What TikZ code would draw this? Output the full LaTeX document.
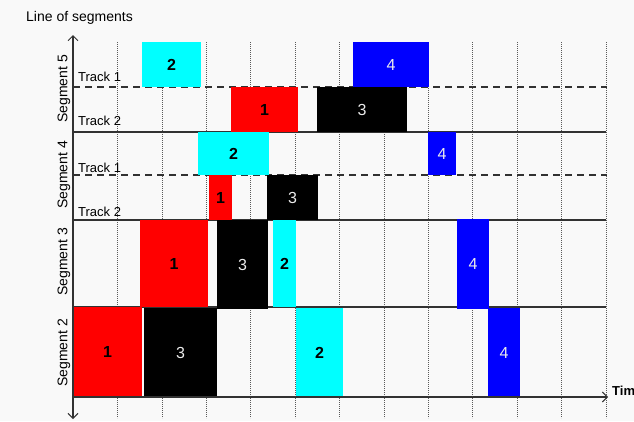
\documentclass[tikz,border=0pt]{standalone}
\usepackage{fontspec}
\setmainfont{Liberation Sans}
\usetikzlibrary{arrows.meta}
\definecolor{bg}{RGB}{249,249,249}
\definecolor{axiscol}{RGB}{50,50,50}
\definecolor{jcyan}{RGB}{0,255,255}
\definecolor{jred}{RGB}{255,0,0}
\definecolor{jblue}{RGB}{0,0,255}
\begin{document}
\begin{tikzpicture}[x=1pt,y=-1pt,
  job/.style={rectangle, anchor=north west, inner sep=0pt, outer sep=0pt, draw=none},
  darknum/.style={text=black, font=\bfseries\fontsize{16}{16}\selectfont},
  lightnum/.style={text=white!92!black, font=\fontsize{16}{16}\selectfont},
  redjob/.style={job, fill=jred, darknum},
  cyanjob/.style={job, fill=jcyan, darknum},
  blackjob/.style={job, fill=black, lightnum},
  bluejob/.style={job, fill=jblue, lightnum},
  axisline/.style={draw=axiscol, line width=1.2pt},
  trackline/.style={draw=axiscol, line width=1.3pt, dash pattern=on 7pt off 5pt},
  gridline/.style={draw=gray!70!black, line width=0.6pt, dash pattern=on 0.8pt off 1.2pt},
  tip/.style={-{Straight Barb[length=5pt,width=10pt,line width=1pt]}},
  seglabel/.style={rotate=90, font=\fontsize{14}{14}\selectfont, inner sep=0pt},
  tracklabel/.style={anchor=base west, font=\fontsize{13}{13}\selectfont, inner sep=0pt}
]
\useasboundingbox[fill=bg] (0,0) rectangle (634,421);

% grid
\foreach \k in {1,...,12}
  \draw[gridline] ({73+44.4*\k},42) -- ({73+44.4*\k},418);

% coordinates
\coordinate (O) at (73,397);
\coordinate (ytop) at (73,35);
\coordinate (ybot) at (73,419);
\coordinate (xend) at (608,397);
\coordinate (d1a) at (73,87);   \coordinate (d1b) at (607,87);
\coordinate (s1a) at (73,132);  \coordinate (s1b) at (606,132);
\coordinate (d2a) at (73,175);  \coordinate (d2b) at (607,175);
\coordinate (s2a) at (73,220);  \coordinate (s2b) at (606,220);
\coordinate (s3a) at (73,307);  \coordinate (s3b) at (606,307);

% track / segment lines
\draw[trackline] (d1a) -- (d1b);
\draw[trackline] (d2a) -- (d2b);
\draw[axisline] (s1a) -- (s1b);
\draw[axisline] (s2a) -- (s2b);
\draw[axisline] (s3a) -- (s3b);

% Segment 5, track 1
\node[cyanjob, minimum width=59pt, minimum height=45pt] (a52) at (142,42) {2};
\node[bluejob, minimum width=76pt, minimum height=45pt] (a54) at (353,42) {4};
% Segment 5, track 2
\node[redjob, minimum width=67pt, minimum height=45pt] (b51) at (231,87) {1};
\node[blackjob, minimum width=90pt, minimum height=45pt] (b53) at (317,87) {3};
% Segment 4, track 1
\node[cyanjob, minimum width=71pt, minimum height=43pt] (a42) at (198,132) {2};
\node[bluejob, minimum width=28pt, minimum height=43pt] (a44) at (428,132) {4};
% Segment 4, track 2
\node[redjob, minimum width=23pt, minimum height=45pt] (b41) at (209,175) {1};
\node[blackjob, minimum width=51pt, minimum height=45pt] (b43) at (267,175) {3};
% Segment 3
\node[redjob, minimum width=68pt, minimum height=87pt] (c31) at (140,220) {1};
\node[blackjob, minimum width=51pt, minimum height=89pt] (c33) at (217,220) {3};
\node[cyanjob, minimum width=23pt, minimum height=87pt] (c32) at (273,220) {2};
\node[bluejob, minimum width=32pt, minimum height=90pt] (c34) at (457,219) {4};
% Segment 2
\node[redjob, minimum width=69pt, minimum height=90pt] (c21) at (73,307) {1};
\node[blackjob, minimum width=73pt, minimum height=89pt] (c23) at (144,308) {3};
\node[cyanjob, minimum width=47pt, minimum height=89pt] (c22) at (296,308) {2};
\node[bluejob, minimum width=32pt, minimum height=89pt] (c24) at (488,308) {4};

% axes
\draw[axisline, tip] (O) -- (ytop);
\draw[axisline, tip] (O) -- (ybot);
\draw[axisline, tip] (O) -- (xend);

% labels
\node[anchor=base west, inner sep=0pt, font=\fontsize{14}{14}\selectfont] (ylab) at (26,21) {Line of segments};
\node[anchor=base west, inner sep=0pt, font=\bfseries\fontsize{13}{13}\selectfont] (xlab) at (612,395) {Tim};

\node[seglabel] (seg5) at (64,89) {Segment 5};
\node[seglabel] (seg4) at (64,175) {Segment 4};
\node[seglabel] (seg3) at (64,262) {Segment 3};
\node[seglabel] (seg2) at (64,353) {Segment 2};

\node[tracklabel] (t51) at (78,81) {Track 1};
\node[tracklabel] (t52) at (78,125) {Track 2};
\node[tracklabel] (t41) at (78,172) {Track 1};
\node[tracklabel] (t42) at (78,216) {Track 2};
\end{tikzpicture}
\end{document}
